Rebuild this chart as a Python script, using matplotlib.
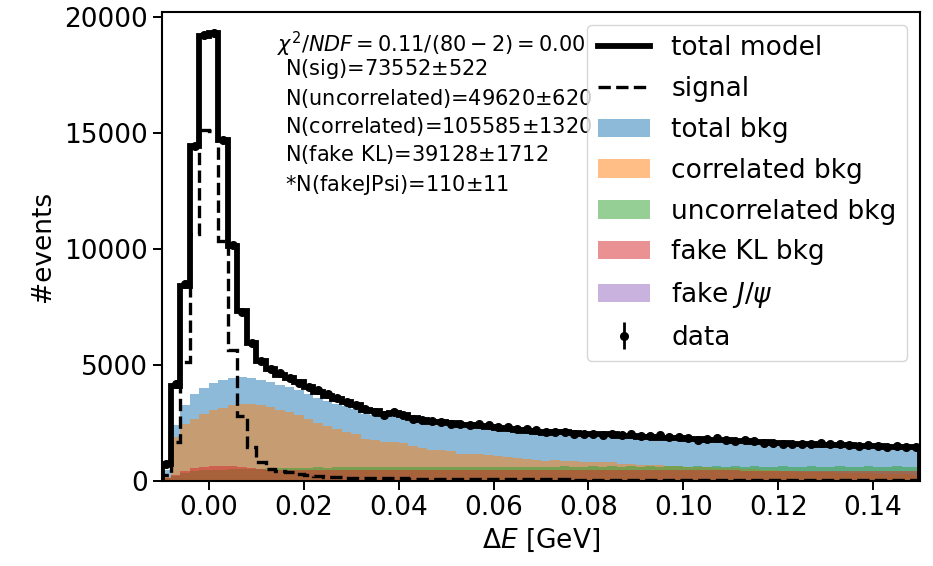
import numpy as np
import matplotlib
matplotlib.use("Agg")
import matplotlib.pyplot as plt
from matplotlib.patches import Patch
from matplotlib.lines import Line2D
from matplotlib.ticker import FormatStrFormatter

# ---- binning ----
x_min, x_max, n_bins = -0.01, 0.15, 80

# ---- per-bin contents (80 bins) ----
signal = [
    260, 1690, 5150, 10650, 15150, 15100, 10330, 5680, 2830, 1480, 820,
    530, 450, 390, 330, 280, 240, 210, 190, 170, 160,
    150, 145, 140, 135, 130, 125, 120, 118, 115,
    112, 110, 108, 105, 103, 100, 98, 96, 94, 92,
    90, 88, 86, 85, 84, 82, 81, 80, 79, 78,
    77, 76, 75, 74, 73, 72, 71, 70, 69, 68,
    67, 66, 66, 65, 65, 64, 64, 63, 63, 62,
    62, 61, 61, 60, 60, 60, 59, 59, 58, 58,
]
correlated = [
    200, 1910, 2490, 2710, 2920, 3070, 3180, 3280, 3350, 3350, 3310,
    3210, 3070, 2990, 2850, 2700, 2520, 2400, 2250, 2130, 2040,
    1820, 1780, 1680, 1720, 1640, 1530, 1430, 1340, 1360,
    1300, 1200, 1190, 1170, 1120, 1090, 1040, 1010, 960, 930,
    900, 920, 900, 880, 840, 830, 820, 830, 750, 740,
    720, 700, 690, 670, 660, 640, 620, 610, 590, 580,
    560, 550, 525, 500, 480, 460, 440, 430, 420, 410,
    400, 385, 375, 360, 350, 340, 330, 320, 310, 300,
]
uncorrelated = [
    150, 230, 350, 470, 480, 500, 510, 520, 520, 530, 540,
    580, 590, 590, 600, 600, 610, 600, 610, 620, 610,
    610, 610, 620, 610, 625, 615, 615, 625, 615,
    620, 620, 630, 620, 620, 630, 620, 630, 630, 620,
    630, 645, 655, 645, 645, 655, 645, 655, 645, 655,
    645, 655, 645, 655, 655, 645, 655, 645, 655, 645,
    655, 645, 655, 645, 645, 655, 645, 645, 655, 645,
    645, 655, 645, 645, 655, 645, 645, 655, 645, 645,
]
fake_kl = [
    150, 280, 440, 600, 620, 650, 680, 670, 620, 590, 520,
    500, 490, 480, 480, 480, 480, 480, 480, 480, 480,
    480, 480, 483, 483, 481, 481, 480, 480, 479,
    484, 483, 483, 482, 482, 481, 481, 480, 480, 479,
    479, 483, 483, 482, 482, 481, 481, 480, 480, 479,
    479, 478, 478, 477, 477, 476, 476, 475, 475, 474,
    474, 473, 473, 472, 472, 471, 471, 470, 470, 469,
    469, 468, 468, 467, 467, 466, 466, 465, 465, 465,
]
fake_jpsi = [
    1, 1, 2, 2, 2, 2, 2, 2, 2, 2, 2,
    2, 2, 2, 2, 2, 2, 2, 2, 2, 2,
    2, 2, 2, 1, 1, 1, 1, 1, 1,
    1, 1, 1, 1, 1, 1, 1, 1, 1, 1,
    1, 1, 1, 1, 1, 1, 1, 1, 1, 1,
    1, 1, 1, 1, 1, 1, 1, 1, 1, 1,
    1, 1, 1, 1, 1, 1, 1, 1, 1, 1,
    1, 1, 1, 1, 1, 1, 1, 1, 1, 1,
]
data = [
    740, 4180, 8480, 14420, 19200, 19320, 14720, 10180, 7280, 5960, 5170,
    4830, 4650, 4460, 4250, 4080, 3930, 3760, 3580, 3420, 3290,
    3140, 2990, 2850, 2990, 2850, 2710, 2640, 2590, 2560,
    2490, 2460, 2420, 2460, 2420, 2350, 2350, 2280, 2280, 2200,
    2130, 2130, 2130, 2060, 2060, 2060, 1990, 2030, 2000, 2030,
    1940, 1940, 1990, 1910, 1910, 1880, 1800, 1840, 1880, 1800,
    1730, 1800, 1730, 1660, 1660, 1630, 1600, 1600, 1630, 1660,
    1600, 1600, 1555, 1520, 1555, 1520, 1480, 1520, 1480, 1480,
]

fit_text = [
    r"N(sig)=73552$\pm$522",
    r"N(uncorrelated)=49620$\pm$620",
    r"N(correlated)=105585$\pm$1320",
    r"N(fake KL)=39128$\pm$1712",
    r"*N(fakeJPsi)=110$\pm$11",
]
chi2_text = r"$\chi^2/NDF = 0.11/(80-2) = 0.00$"

x_ticks = [0.00, 0.02, 0.04, 0.06, 0.08, 0.10, 0.12, 0.14]
y_ticks = [0, 5000, 10000, 15000, 20000]

# ---- derived ----
edges = np.linspace(x_min, x_max, n_bins + 1)
centers = 0.5 * (edges[:-1] + edges[1:])
signal = np.array(signal, float)
correlated = np.array(correlated, float)
uncorrelated = np.array(uncorrelated, float)
fake_kl = np.array(fake_kl, float)
fake_jpsi = np.array(fake_jpsi, float)
data = np.array(data, float)
total_bkg = correlated + uncorrelated + fake_kl + fake_jpsi
total_model = signal + total_bkg

FS = 19
fig = plt.figure(figsize=(9.33, 5.66), dpi=100)
ax = fig.add_axes([0.1731, 0.1493, 0.8135, 0.8300])

ax.stairs(total_bkg, edges, fill=True, color="C0", alpha=0.5, lw=0)
ax.stairs(correlated, edges, fill=True, color="C1", alpha=0.5, lw=0)
ax.stairs(uncorrelated, edges, fill=True, color="C2", alpha=0.5, lw=0)
ax.stairs(fake_kl, edges, fill=True, color="C3", alpha=0.5, lw=0)
ax.stairs(fake_jpsi, edges, fill=True, color="C4", alpha=0.5, lw=0)
ax.stairs(total_model, edges, color="k", lw=4.2, zorder=3)
ax.stairs(signal, edges, color="k", lw=2.4, ls="--", zorder=3)
eb = ax.errorbar(centers, data, yerr=np.sqrt(data), fmt="o", color="k",
                 ms=5.5, elinewidth=2.0, capsize=0, zorder=4)

ax.set_xlim(x_min, x_max)
ax.set_ylim(0, 20220)
ax.set_xticks(x_ticks)
ax.set_yticks(y_ticks)
ax.xaxis.set_major_formatter(FormatStrFormatter("%.2f"))
ax.tick_params(labelsize=FS, length=6.5, width=1.4)
for s in ax.spines.values():
    s.set_linewidth(1.5)
ax.set_xlabel(r"$\Delta E$ [GeV]", fontsize=FS)
ax.set_ylabel("#events", fontsize=FS, labelpad=6)

ax.text(0.152, 0.930, chi2_text, transform=ax.transAxes, fontsize=15, va="center")
ys = [0.879, 0.816, 0.756, 0.695, 0.631]
for t, y in zip(fit_text, ys):
    ax.text(0.1625, y, t, transform=ax.transAxes, fontsize=15, va="center")

handles = [
    Line2D([], [], color="k", lw=4.2),
    Line2D([], [], color="k", lw=2.4, ls="--"),
    Patch(facecolor="C0", alpha=0.5),
    Patch(facecolor="C1", alpha=0.5),
    Patch(facecolor="C2", alpha=0.5),
    Patch(facecolor="C3", alpha=0.5),
    Patch(facecolor="C4", alpha=0.5),
    eb,
]
labels = ["total model", "signal", "total bkg", "correlated bkg",
          "uncorrelated bkg", "fake KL bkg", r"fake $J/\psi$", "data"]
ax.legend(handles, labels, loc="upper right", fontsize=FS, labelspacing=0.56)

fig.savefig("out.png", dpi=100)
